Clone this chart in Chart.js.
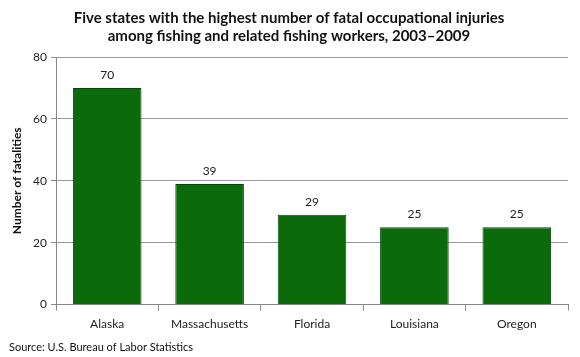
<!DOCTYPE html>
<html><head><meta charset="utf-8">
<script src="https://cdn.jsdelivr.net/npm/chart.js@4/dist/chart.umd.min.js"></script>
<style>html,body{margin:0;padding:0;background:#fff}#wrap{width:580px;height:357px}</style>
</head><body><div id="wrap"><canvas id="c" width="580" height="357"></canvas></div>
<script>
const categories = ["Alaska", "Massachusetts", "Florida", "Louisiana", "Oregon"];
const fatalities = [70, 39, 29, 25, 25];
const yTicks = [0, 20, 40, 60, 80];
const titleLines = ["Five states with the highest number of fatal occupational injuries", "among fishing and related fishing workers, 2003\u20132009"];
const yAxisTitle = "Number of fatalities";
const sourceText = "Source: U.S. Bureau of Labor Statistics";

const FONT = "Lato, 'Open Sans', sans-serif";

const valueLabels = {
  id: 'valueLabels',
  afterDatasetsDraw(chart) {
    const ctx = chart.ctx;
    const meta = chart.getDatasetMeta(0);
    ctx.save();
    ctx.font = "12px " + FONT;
    ctx.fillStyle = "#222";
    ctx.textAlign = "center";
    ctx.textBaseline = "bottom";
    meta.data.forEach((bar, i) => {
      ctx.fillText(String(chart.data.datasets[0].data[i]), bar.x, bar.y - 7);
    });
    ctx.restore();
  }
};

const sourcePlugin = {
  id: 'sourcePlugin',
  afterDraw(chart) {
    const ctx = chart.ctx;
    ctx.save();
    ctx.font = "11px " + FONT;
    ctx.fillStyle = "#111";
    ctx.textAlign = "left";
    ctx.textBaseline = "middle";
    ctx.fillText(sourceText, 9, 347);
    ctx.restore();
  }
};

new Chart(document.getElementById('c'), {
  type: 'bar',
  data: {
    labels: categories,
    datasets: [{
      data: fatalities,
      backgroundColor: '#0b6b0b',
      borderColor: '#074a07',
      borderWidth: 1,
      barPercentage: 0.67,
      categoryPercentage: 1.0
    }]
  },
  options: {
    responsive: false,
    animation: false,
    devicePixelRatio: 1,
    layout: { padding: { top: 0, left: 10, right: 12, bottom: 20 } },
    plugins: {
      legend: { display: false },
      tooltip: { enabled: false },
      title: {
        display: true,
        text: titleLines,
        color: '#111',
        font: { family: FONT, size: 15, weight: 'bold', lineHeight: 1.2 },
        padding: { top: 9, bottom: 12 }
      }
    },
    scales: {
      x: {
        grid: { display: true, drawOnChartArea: false, drawTicks: true, tickLength: 6, color: '#888', offset: true },
        border: { display: true, color: '#888' },
        ticks: { color: '#222', font: { family: FONT, size: 12 }, padding: 6 }
      },
      y: {
        min: 0, max: 80,
        afterBuildTicks(scale) { scale.ticks = yTicks.map(v => ({ value: v })); },
        afterFit(scale) { scale.width = 46; },
        grid: { color: '#999', borderDash: [1, 2], tickBorderDash: [], tickColor: '#888', tickLength: 5, drawTicks: true },
        border: { display: true, color: '#888' },
        ticks: { color: '#222', font: { family: FONT, size: 12 }, padding: 4 },
        title: { display: true, text: yAxisTitle, color: '#111', font: { family: FONT, size: 12, weight: 'bold' }, padding: { top: 0, bottom: 4 } }
      }
    }
  },
  plugins: [valueLabels, sourcePlugin]
});
</script></body></html>
